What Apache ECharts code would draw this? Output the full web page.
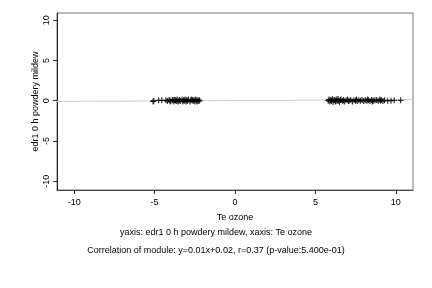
<!DOCTYPE html>
<html><head><meta charset="utf-8">
<script src="https://cdn.jsdelivr.net/npm/echarts@6/dist/echarts.min.js"></script>
<style>html,body{margin:0;padding:0;background:#fff}#c{width:432px;height:288px}</style>
</head><body><div id="c"></div>
<script>
var xTicks = [-10, -5, 0, 5, 10];
var yTicks = [-10, -5, 0, 5, 10];
var clusterAx = [-5.1,-5.05,-4.75,-4.55,-4.3,-4.2,-4.1,-4.0,-3.9,-3.85,-3.8,-3.7,-3.6,-3.55,-3.5,-3.45,-3.4,-3.3,-3.25,-3.2,-3.1,-3.05,-3.0,-2.95,-2.9,-2.8,-2.75,-2.7,-2.6,-2.55,-2.5,-2.45,-2.4,-2.35,-2.3,-2.25,-2.2,-3.65,-3.15,-2.65,-4.05,-3.75];
var clusterAy = [-0.1,0.0,0.05,0.05,0.05,-0.05,0.1,-0.1,0.05,0.1,-0.1,0.05,0.15,-0.1,0.0,0.1,-0.05,0.15,-0.1,0.05,0.15,-0.1,0.1,-0.05,0.15,-0.1,0.05,0.15,-0.05,0.1,-0.1,0.15,0.0,-0.1,0.1,-0.05,0.05,-0.05,0.0,0.1,0.0,0.1];
var clusterBx = [5.8,5.85,5.9,5.95,6.0,6.05,6.1,6.15,6.2,6.25,6.3,6.35,6.4,6.45,6.5,6.55,6.6,6.7,6.75,6.8,6.9,7.0,7.05,7.1,7.2,7.3,7.4,7.5,7.55,7.6,7.7,7.8,7.9,8.0,8.1,8.2,8.25,8.3,8.4,8.5,8.55,8.6,8.7,8.8,8.9,9.0,9.05,9.1,9.2,9.3,9.5,9.7,9.9,10.3];
var clusterBy = [0.0,0.15,-0.1,0.1,-0.05,0.2,-0.15,0.1,0.05,-0.1,0.15,-0.05,0.2,0.0,-0.15,0.1,0.15,-0.05,0.1,-0.1,0.05,0.15,-0.05,0.0,0.1,-0.1,0.05,0.0,0.15,-0.05,0.05,0.0,0.1,-0.05,0.05,0.0,0.15,0.05,-0.05,0.1,-0.1,0.0,0.05,0.1,-0.05,0.15,0.0,0.1,-0.05,0.05,0.0,0.0,0.05,0.05];
var fitSlope = 0.01, fitIntercept = 0.02;
var xRange = [-11.07, 11.07];
var yRange = [-11.1, 10.9];

var pts = [];
clusterAx.forEach(function(x,i){pts.push([x, clusterAy[i]]);});
clusterBx.forEach(function(x,i){pts.push([x, clusterBy[i]]);});
var fit = xRange.map(function(x){return [x, fitSlope*x+fitIntercept];});
var plus = 'path://M-1,-0.2L-0.2,-0.2L-0.2,-1L0.2,-1L0.2,-0.2L1,-0.2L1,0.2L0.2,0.2L0.2,1L-0.2,1L-0.2,0.2L-1,0.2Z';
var FONT = 'Liberation Sans';
var chart = echarts.init(document.getElementById('c'), null, {renderer:'canvas'});
chart.setOption({
  animation:false,
  backgroundColor:'#fff',
  grid:{left:57, right:19, top:13, bottom:98, show:true, borderColor:'#777', borderWidth:1, backgroundColor:'transparent'},
  xAxis:{type:'value', min:xRange[0], max:xRange[1],
    name:'Te ozone', nameLocation:'middle', nameGap:23, nameTextStyle:{fontFamily:FONT,fontSize:9,color:'#000'},
    axisLine:{show:true, onZero:false, lineStyle:{color:'#444', width:1}}, splitLine:{show:false},
    axisTick:{show:true, length:4, lineStyle:{color:'#333'}, customValues:xTicks},
    axisLabel:{fontFamily:FONT, fontSize:9, color:'#000', margin:8, customValues:xTicks}},
  yAxis:{type:'value', min:yRange[0], max:yRange[1],
    name:'edr1 0 h powdery mildew', nameLocation:'middle', nameGap:17, nameRotate:90, nameMoveOverlap:false,
    nameTextStyle:{fontFamily:FONT,fontSize:9,color:'#000'},
    axisLine:{show:true, onZero:false, lineStyle:{color:'#222', width:1}}, splitLine:{show:false},
    axisTick:{show:true, length:4, lineStyle:{color:'#333'}, customValues:yTicks},
    axisLabel:{fontFamily:FONT, fontSize:9, color:'#000', margin:6, rotate:90, customValues:yTicks}},
  graphic:[
    {type:'text', left:'center', top:228, style:{text:'yaxis: edr1 0 h powdery mildew, xaxis: Te ozone', font:'9px "Liberation Sans"', fill:'#000'}},
    {type:'text', left:'center', top:246, style:{text:'Correlation of module: y=0.01x+0.02, r=0.37 (p-value:5.400e-01)', font:'9px "Liberation Sans"', fill:'#000'}}
  ],
  series:[
    {type:'line', data:fit, symbol:'none', lineStyle:{color:'#cfcfcf', width:1}, z:1},
    {type:'scatter', data:pts, symbol:plus, symbolSize:6, itemStyle:{color:'#000'}, z:2}
  ]
});
</script></body></html>
